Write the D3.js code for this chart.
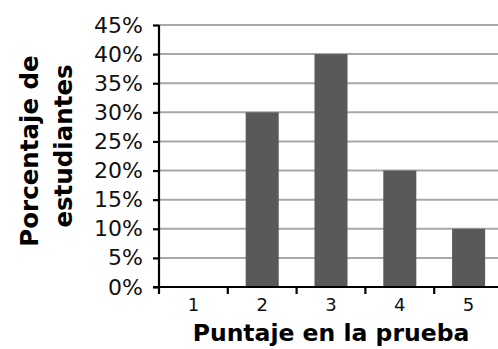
<!DOCTYPE html>
<html>
<head>
<meta charset="utf-8">
<script src="https://cdn.jsdelivr.net/npm/d3@7"></script>
<style>
  html, body { margin: 0; padding: 0; background: #fff; }
  svg { display: block; }
</style>
</head>
<body>
<svg id="chart" width="498" height="349"></svg>
<script>
// Score distribution: share of students per test score
const categories = ["1", "2", "3", "4", "5"];
const values = [0, 30, 40, 20, 10];
const yTicks = [0, 5, 10, 15, 20, 25, 30, 35, 40, 45];
const yLabelLines = ["Porcentaje de", "estudiantes"];
const xTitle = "Puntaje en la prueba";

const svg = d3.select("#chart");
const W = 498, H = 349;
const plot = { left: 159, right: 503, top: 25, bottom: 287 };

const x = d3.scaleBand()
  .domain(categories)
  .range([plot.left, plot.right])
  .paddingInner(0.52)
  .paddingOuter(0.26);

const y = d3.scaleLinear()
  .domain([0, 45])
  .range([plot.bottom, plot.top]);

// horizontal gridlines
svg.append("g")
  .selectAll("line")
  .data(yTicks.filter(d => d > 0))
  .join("line")
  .attr("x1", plot.left)
  .attr("x2", W)
  .attr("y1", d => y(d))
  .attr("y2", d => y(d))
  .attr("stroke", "#a8a8a8")
  .attr("stroke-width", 2);

// bars
svg.append("g")
  .selectAll("rect")
  .data(categories.map((c, i) => ({ c, v: values[i] })))
  .join("rect")
  .attr("x", d => x(d.c))
  .attr("width", x.bandwidth())
  .attr("y", d => y(d.v))
  .attr("height", d => y(0) - y(d.v))
  .attr("fill", "#58595b");

// y axis
const yAxis = svg.append("g")
  .attr("transform", `translate(${plot.left},0)`)
  .call(d3.axisLeft(y).tickValues(yTicks).tickFormat(d => d + "%").tickSize(6).tickPadding(10));
yAxis.select(".domain").attr("stroke", "#000").attr("stroke-width", 2.2)
  .attr("d", `M0,${plot.top}V${plot.bottom}`);
yAxis.selectAll(".tick line").attr("stroke", "#000").attr("stroke-width", 2.2);
yAxis.selectAll(".tick text")
  .attr("fill", "#111")
  .style("font-family", "'DejaVu Sans', Verdana, sans-serif")
  .style("font-size", "22px");

// x axis: ticks sit on the category boundaries, labels at band centres
const step = x.step();
const bounds = d3.range(categories.length + 1).map(i => plot.left + i * step);
const xAxis = svg.append("g");
xAxis.append("line")
  .attr("x1", plot.left - 6).attr("x2", W)
  .attr("y1", plot.bottom).attr("y2", plot.bottom)
  .attr("stroke", "#000").attr("stroke-width", 2.2);
xAxis.selectAll("line.tk")
  .data(bounds)
  .join("line")
  .attr("class", "tk")
  .attr("x1", d => d).attr("x2", d => d)
  .attr("y1", plot.bottom).attr("y2", plot.bottom + 7)
  .attr("stroke", "#000").attr("stroke-width", 2.2);
xAxis.selectAll("text")
  .data(categories)
  .join("text")
  .attr("x", d => x(d) + x.bandwidth() / 2)
  .attr("y", 311)
  .attr("text-anchor", "middle")
  .attr("fill", "#111")
  .style("font-family", "'DejaVu Sans', Verdana, sans-serif")
  .style("font-size", "18px")
  .text(d => d);

// axis titles
svg.append("text")
  .attr("x", 331)
  .attr("y", 341)
  .attr("text-anchor", "middle")
  .attr("fill", "#000")
  .style("font-family", "'DejaVu Sans', Verdana, sans-serif")
  .style("font-weight", "bold")
  .style("font-size", "23.5px")
  .text(xTitle);

// rotated y title, each line centred on its own point
const yTitleCentres = [151, 146];
const yTitleBaselines = [38, 72];
svg.append("g")
  .selectAll("text")
  .data(yLabelLines)
  .join("text")
  .attr("transform", (d, i) => `translate(${yTitleBaselines[i]},${yTitleCentres[i]}) rotate(-90)`)
  .attr("text-anchor", "middle")
  .attr("fill", "#000")
  .style("font-family", "'DejaVu Sans', Verdana, sans-serif")
  .style("font-weight", "bold")
  .style("font-size", "24.5px")
  .text(d => d);
</script>
</body>
</html>
